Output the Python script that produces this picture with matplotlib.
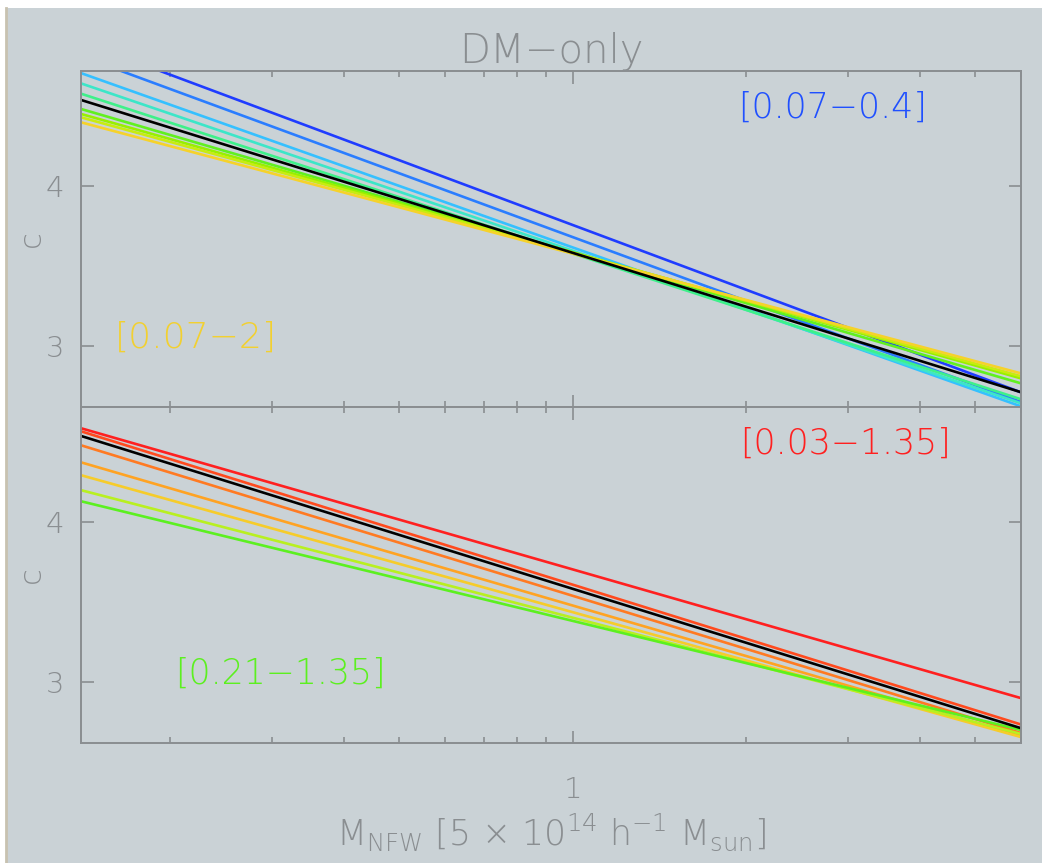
"""Concentration-mass relation, DM-only runs, two radial ranges"""

import numpy as np
import matplotlib
matplotlib.use("Agg")
from matplotlib import pyplot as plt
from matplotlib.patches import Rectangle
from matplotlib.ticker import FixedLocator, NullFormatter, FixedFormatter

# Mass range (units of 5e14 h^-1 Msun) where the fits are drawn
mass_ends = [0.14, 6.0]

# Top panel: c at the two mass ends, one fit per radial range
top_colors = ["#1f3cff", "#2a7dff", "#35c0ff", "#3ce6c8", "#3ef08a",
              "#60f020", "#98f000", "#c8ec10", "#f6d22a"]
top_c_lo = [4.896, 4.804, 4.699, 4.635, 4.571, 4.476, 4.445, 4.424, 4.393]
top_c_hi = [2.714, 2.654, 2.627, 2.646, 2.671, 2.770, 2.801, 2.814, 2.832]

# Bottom panel
bot_colors = ["#ff2020", "#ff4a1e", "#ff7a22", "#ffa322", "#f6cc2a",
              "#b8f020", "#5cf020"]
bot_c_lo = [4.580, 4.561, 4.474, 4.368, 4.288, 4.195, 4.126]
bot_c_hi = [2.902, 2.738, 2.685, 2.666, 2.660, 2.679, 2.704]

# Full-range fit (black) shown in both panels
ref_c = [4.532, 2.715]

top_label, top_label2 = "[0.07\u22120.4]", "[0.07\u22122]"
bot_label, bot_label2 = "[0.03\u22121.35]", "[0.21\u22121.35]"

plt.rcParams["font.family"] = ["DejaVu Sans"]
plt.rcParams["font.weight"] = "light"
plt.rcParams["axes.titleweight"] = "light"
plt.rcParams["axes.labelweight"] = "light"
plt.rcParams["mathtext.default"] = "regular"

bg = "#cad2d6"
grey = "#8a8e91"

fig = plt.figure(figsize=(10.42, 8.63), dpi=100, facecolor="white")
fig.patches.append(Rectangle((7 / 1042, 0), 1, 1 - 8 / 863,
                             transform=fig.transFigure, facecolor=bg,
                             edgecolor="none", zorder=-10))
fig.add_artist(plt.Line2D([6 / 1042, 6 / 1042], [0, 1 - 8 / 863],
                          transform=fig.transFigure, color="#c8c2b0", lw=2))

left, width = 81 / 1042, 940 / 1042
ax1 = fig.add_axes([left, 1 - 407 / 863, width, 336 / 863])
ax2 = fig.add_axes([left, 1 - 743 / 863, width, 336 / 863])


def style(ax):
    ax.set_facecolor(bg)
    ax.set_xscale("log")
    ax.set_xlim(*mass_ends)
    ax.set_ylim(2.623, 4.712)
    for sp in ax.spines.values():
        sp.set_color(grey)
        sp.set_linewidth(1.4)
    ax.xaxis.set_major_locator(FixedLocator([1]))
    ax.xaxis.set_minor_locator(FixedLocator([0.2, 0.3, 0.4, 0.5, 0.6, 0.7,
                                             0.8, 0.9, 2, 3, 4, 5, 6]))
    ax.xaxis.set_minor_formatter(NullFormatter())
    ax.yaxis.set_major_locator(FixedLocator([3, 4]))
    ax.yaxis.set_minor_locator(FixedLocator([]))
    ax.tick_params(which="both", direction="in", top=True, right=True,
                   color=grey, labelcolor=grey, labelsize=21, width=1.2)
    ax.tick_params(which="major", length=9)
    ax.tick_params(axis="y", pad=12)
    ax.tick_params(axis="x", pad=24)
    ax.tick_params(which="minor", length=4)
    ax.set_ylabel("c", color=grey, fontsize=22, labelpad=0)


for ax in (ax1, ax2):
    style(ax)

for col, lo, hi in zip(top_colors, top_c_lo, top_c_hi):
    ax1.plot(mass_ends, [lo, hi], color=col, lw=1.9)
ax1.plot(mass_ends, ref_c, color="black", lw=1.9)
ax1.xaxis.set_major_formatter(NullFormatter())
ax1.set_title("DM\u2212only", color=grey, fontsize=29, pad=6)
ax1.text(0.80, 0.89, top_label, transform=ax1.transAxes, color="#2050ff",
         fontsize=25, ha="center", va="center")
ax1.text(0.122, 0.207, top_label2, transform=ax1.transAxes, color="#f2d030",
         fontsize=26, ha="center", va="center")

for col, lo, hi in zip(bot_colors, bot_c_lo, bot_c_hi):
    ax2.plot(mass_ends, [lo, hi], color=col, lw=1.9)
ax2.plot(mass_ends, ref_c, color="black", lw=1.9)
ax2.xaxis.set_major_formatter(FixedFormatter(["1"]))
ax2.text(0.813, 0.89, bot_label, transform=ax2.transAxes, color="#ff2020",
         fontsize=25, ha="center", va="center")
ax2.text(0.212, 0.207, bot_label2, transform=ax2.transAxes, color="#5cf020",
         fontsize=25, ha="center", va="center")
ax2.set_xlabel(r"M$_{NFW}$ [5 $\times$ 10$^{14}$ h$^{-1}$ M$_{sun}$]",
               color=grey, fontsize=25, labelpad=5)

fig.savefig("out.png", dpi=100, facecolor=fig.get_facecolor())
